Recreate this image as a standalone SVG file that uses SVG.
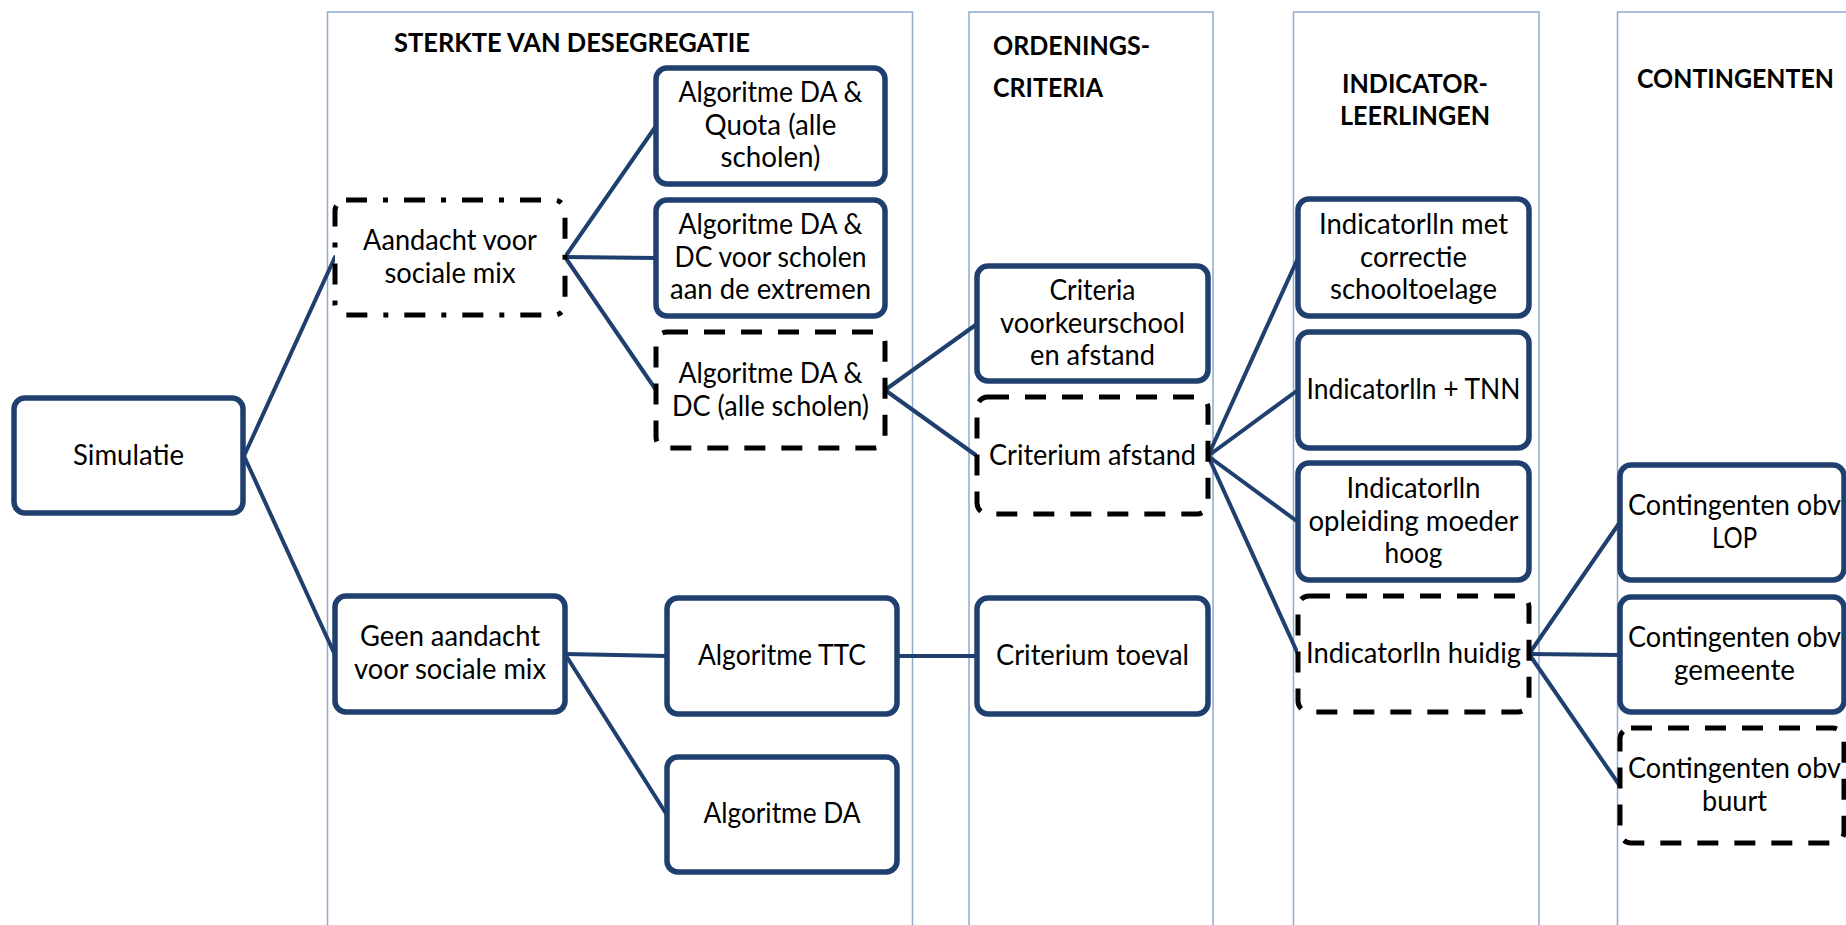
<svg xmlns="http://www.w3.org/2000/svg" width="1846" height="925" viewBox="0 0 1846 925">
<style>
.band{fill:none;stroke:#8FAACB;stroke-width:1.5}
.node{fill:#fff;stroke:#1F406F;stroke-width:5.5}
.dash{fill:#fff;stroke:#000;stroke-width:5;stroke-dasharray:21 16}
.dashdot{fill:#fff;stroke:#000;stroke-width:5;stroke-dasharray:21 16 5 16}
.conn line{stroke:#1F406F;stroke-width:4;stroke-linecap:round}
.t{font-family:Lato,"Liberation Sans",sans-serif;font-size:28px;fill:#000;text-anchor:middle}
.h{font-family:Lato,"Liberation Sans",sans-serif;font-size:26px;font-weight:bold;fill:#000}
</style>
<rect width="1846" height="925" fill="#fff"/>
<g id="bands">
<rect class="band" x="327.5" y="12" width="585" height="940"/>
<rect class="band" x="969" y="12" width="244" height="940"/>
<rect class="band" x="1293.5" y="12" width="245.5" height="940"/>
<rect class="band" x="1617.5" y="12" width="260" height="940"/>
</g>
<g id="headers">
<text class="h" x="394" y="52" textLength="356" lengthAdjust="spacingAndGlyphs">STERKTE VAN DESEGREGATIE</text>
<text class="h" x="993" y="55" textLength="157" lengthAdjust="spacingAndGlyphs">ORDENINGS-</text>
<text class="h" x="993" y="97" textLength="110" lengthAdjust="spacingAndGlyphs">CRITERIA</text>
<text class="h" x="1342" y="93" textLength="146" lengthAdjust="spacingAndGlyphs">INDICATOR-</text>
<text class="h" x="1340" y="125" textLength="150" lengthAdjust="spacingAndGlyphs">LEERLINGEN</text>
<text class="h" x="1637" y="88" textLength="197" lengthAdjust="spacingAndGlyphs">CONTINGENTEN</text>
</g>
<g id="connectors" class="conn">
<line x1="244" y1="456" x2="335" y2="257"/>
<line x1="244" y1="456" x2="335" y2="655"/>
<line x1="565" y1="257" x2="656" y2="126"/>
<line x1="565" y1="257" x2="656" y2="258"/>
<line x1="565" y1="257" x2="656" y2="390"/>
<line x1="565" y1="654" x2="667" y2="656"/>
<line x1="565" y1="654" x2="667" y2="815"/>
<line x1="885" y1="390" x2="977" y2="324"/>
<line x1="885" y1="390" x2="977" y2="456"/>
<line x1="897" y1="656" x2="977" y2="656"/>
<line x1="1208" y1="456" x2="1298" y2="258"/>
<line x1="1208" y1="456" x2="1298" y2="390"/>
<line x1="1208" y1="456" x2="1298" y2="522"/>
<line x1="1208" y1="456" x2="1298" y2="654"/>
<line x1="1529" y1="654" x2="1620" y2="522"/>
<line x1="1529" y1="654" x2="1620" y2="655"/>
<line x1="1529" y1="654" x2="1620" y2="786"/>
</g>
<g id="n-simulatie">
<rect class="node" x="14" y="398" width="229" height="115" rx="11"/>
<text class="t" x="128.5" y="465" textLength="111" lengthAdjust="spacingAndGlyphs">Simulatie</text>
</g>
<g id="n-aandacht">
<rect class="dashdot" x="335" y="200" width="230" height="115" rx="11"/>
<text class="t" x="450" y="250" textLength="174" lengthAdjust="spacingAndGlyphs">Aandacht voor</text>
<text class="t" x="450" y="283" textLength="131" lengthAdjust="spacingAndGlyphs">sociale mix</text>
</g>
<g id="n-quota">
<rect class="node" x="656" y="68" width="229" height="116" rx="11"/>
<text class="t" x="770.5" y="102" textLength="184" lengthAdjust="spacingAndGlyphs">Algoritme DA &amp;</text>
<text class="t" x="770.5" y="135" textLength="132" lengthAdjust="spacingAndGlyphs">Quota (alle</text>
<text class="t" x="770.5" y="167" textLength="100" lengthAdjust="spacingAndGlyphs">scholen)</text>
</g>
<g id="n-extremen">
<rect class="node" x="656" y="200" width="229" height="116" rx="11"/>
<text class="t" x="770.5" y="234" textLength="184" lengthAdjust="spacingAndGlyphs">Algoritme DA &amp;</text>
<text class="t" x="770.5" y="267" textLength="192" lengthAdjust="spacingAndGlyphs">DC voor scholen</text>
<text class="t" x="770.5" y="299" textLength="201" lengthAdjust="spacingAndGlyphs">aan de extremen</text>
</g>
<g id="n-dcalle">
<rect class="dash" x="656" y="332" width="229" height="116" rx="11"/>
<text class="t" x="770.5" y="383" textLength="184" lengthAdjust="spacingAndGlyphs">Algoritme DA &amp;</text>
<text class="t" x="770.5" y="416" textLength="197" lengthAdjust="spacingAndGlyphs">DC (alle scholen)</text>
</g>
<g id="n-geen">
<rect class="node" x="335" y="596" width="230" height="116" rx="11"/>
<text class="t" x="450" y="646" textLength="180" lengthAdjust="spacingAndGlyphs">Geen aandacht</text>
<text class="t" x="450" y="679" textLength="192" lengthAdjust="spacingAndGlyphs">voor sociale mix</text>
</g>
<g id="n-ttc">
<rect class="node" x="667" y="598" width="230" height="116" rx="11"/>
<text class="t" x="782" y="665" textLength="168" lengthAdjust="spacingAndGlyphs">Algoritme TTC</text>
</g>
<g id="n-da">
<rect class="node" x="667" y="757" width="230" height="115" rx="11"/>
<text class="t" x="782" y="823" textLength="157" lengthAdjust="spacingAndGlyphs">Algoritme DA</text>
</g>
<g id="n-criteria">
<rect class="node" x="977" y="266" width="231" height="115" rx="11"/>
<text class="t" x="1092.5" y="300" textLength="86" lengthAdjust="spacingAndGlyphs">Criteria</text>
<text class="t" x="1092.5" y="333" textLength="185" lengthAdjust="spacingAndGlyphs">voorkeurschool</text>
<text class="t" x="1092.5" y="365" textLength="125" lengthAdjust="spacingAndGlyphs">en afstand</text>
</g>
<g id="n-afstand">
<rect class="dash" x="977" y="397" width="231" height="117" rx="11"/>
<text class="t" x="1092.5" y="465" textLength="207" lengthAdjust="spacingAndGlyphs">Criterium afstand</text>
</g>
<g id="n-toeval">
<rect class="node" x="977" y="598" width="231" height="116" rx="11"/>
<text class="t" x="1092.5" y="665" textLength="193" lengthAdjust="spacingAndGlyphs">Criterium toeval</text>
</g>
<g id="n-schooltoelage">
<rect class="node" x="1298" y="199" width="231" height="117" rx="11"/>
<text class="t" x="1413.5" y="234" textLength="189" lengthAdjust="spacingAndGlyphs">Indicatorlln met</text>
<text class="t" x="1413.5" y="267" textLength="107" lengthAdjust="spacingAndGlyphs">correctie</text>
<text class="t" x="1413.5" y="299" textLength="167" lengthAdjust="spacingAndGlyphs">schooltoelage</text>
</g>
<g id="n-tnn">
<rect class="node" x="1298" y="332" width="231" height="116" rx="11"/>
<text class="t" x="1413.5" y="399" textLength="214" lengthAdjust="spacingAndGlyphs">Indicatorlln + TNN</text>
</g>
<g id="n-moeder">
<rect class="node" x="1298" y="463" width="231" height="117" rx="11"/>
<text class="t" x="1413.5" y="498" textLength="134" lengthAdjust="spacingAndGlyphs">Indicatorlln</text>
<text class="t" x="1413.5" y="531" textLength="210" lengthAdjust="spacingAndGlyphs">opleiding moeder</text>
<text class="t" x="1413.5" y="563" textLength="58" lengthAdjust="spacingAndGlyphs">hoog</text>
</g>
<g id="n-huidig">
<rect class="dash" x="1298" y="596" width="231" height="116" rx="11"/>
<text class="t" x="1413.5" y="663" textLength="215" lengthAdjust="spacingAndGlyphs">Indicatorlln huidig</text>
</g>
<g id="n-lop">
<rect class="node" x="1620" y="465" width="224" height="115" rx="11"/>
<text class="t" x="1734.5" y="515" textLength="213" lengthAdjust="spacingAndGlyphs">Contingenten obv</text>
<text class="t" x="1734.5" y="548" textLength="45" lengthAdjust="spacingAndGlyphs">LOP</text>
</g>
<g id="n-gemeente">
<rect class="node" x="1620" y="597" width="224" height="115" rx="11"/>
<text class="t" x="1734.5" y="647" textLength="213" lengthAdjust="spacingAndGlyphs">Contingenten obv</text>
<text class="t" x="1734.5" y="680" textLength="121" lengthAdjust="spacingAndGlyphs">gemeente</text>
</g>
<g id="n-buurt">
<rect class="dash" x="1620" y="728" width="224" height="115" rx="11"/>
<text class="t" x="1734.5" y="778" textLength="213" lengthAdjust="spacingAndGlyphs">Contingenten obv</text>
<text class="t" x="1734.5" y="811" textLength="65" lengthAdjust="spacingAndGlyphs">buurt</text>
</g>
</svg>
